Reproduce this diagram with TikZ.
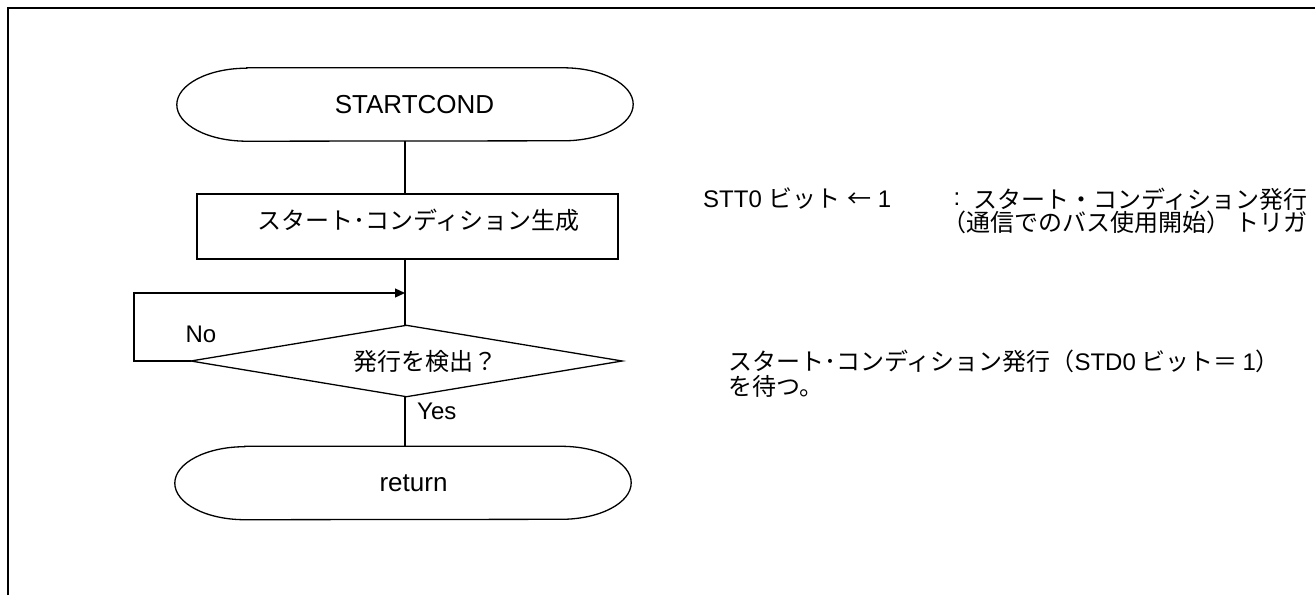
\documentclass[tikz,border=0pt]{standalone}
\usepackage{fontspec}
\setmainfont{Liberation Sans}
\newfontfamily\jp{Noto Sans CJK JP}
\usetikzlibrary{arrows.meta}
\begin{document}
\begin{tikzpicture}[x=1pt,y=1pt,
  flow/.style={line width=1.3pt, draw=black},
  frameline/.style={line width=2pt},
  termnode/.style={inner sep=0pt, minimum width=456pt, minimum height=73pt, font=\fontsize{26}{30}\selectfont},
  procnode/.style={flow, draw, inner sep=0pt, minimum width=421pt, minimum height=65pt, font=\jp\fontsize{24}{28}\selectfont},
  decnode/.style={inner sep=0pt, minimum width=431pt, minimum height=71pt, font=\jp\fontsize{24}{28}\selectfont},
  lbl/.style={inner sep=0pt, font=\fontsize{24}{28}\selectfont},
  rtxt/.style={inner sep=0pt, font=\fontsize{24}{28}\selectfont},
  arrowtip/.style={-{Triangle[length=10pt,width=9pt]}}
]
\newcommand\stadium[1]{%
  \draw[flow] ([xshift=70pt]#1.north west) -- ([xshift=-70pt]#1.north east)
    arc[start angle=90,end angle=-90,x radius=70pt,y radius=36.5pt]
    -- ([xshift=70pt]#1.south west)
    arc[start angle=270,end angle=90,x radius=70pt,y radius=36.5pt] -- cycle;}
\useasboundingbox (0,-595) rectangle (1315,0);
% frame
\draw[frameline] (7.5,-595) -- (7.5,-8) -- (1315,-8);

% nodes
\node[termnode] (start) at (405,-104.5) {\hspace*{19pt}STARTCOND};
\stadium{start}
\node[procnode] (proc) at (407.5,-226.5) {\hspace*{22pt}\raisebox{14pt}{スタート･コンディション生成}};
\node[decnode] (dec) at (406.5,-361) {\hspace*{37pt}発行を検出？};
\draw[flow] (dec.north) -- (dec.east) -- (dec.south) -- (dec.west) -- cycle;
\node[termnode] (ret) at (403,-483) {\hspace*{21pt}return};
\stadium{ret}

% connectors
\draw[flow] (start.south) -- (start.south |- proc.north);
\draw[flow] (proc.south -| start.south) -- (dec.north -| start.south);
\draw[flow] (dec.south -| start.south) -- (ret.north -| start.south);
\coordinate (loopc) at (134,-293);
\draw[flow, arrowtip] (dec.west) -- (dec.west -| loopc) -- (loopc) -- (loopc -| start.south);

% labels
\node[lbl] (no) at (201,-334) {No};
\node[lbl, anchor=west] (yes) at (417,-411) {Yes};

% right-hand notes
\node[rtxt, anchor=west] (r1a) at (703,-199) {STT0 {\jp ビット} {\jp ←} 1};
\node[rtxt] (r1b) at (957,-199) {:};
\node[rtxt, anchor=east] (r1c) at (1308,-199) {\jp スタート・コンディション発行};
\node[rtxt, anchor=east] (r2) at (1308,-222) {\jp （通信でのバス使用開始） トリガ};
\node[rtxt, anchor=west] (r3) at (728,-361) {\jp スタート･コンディション発行（{\rmfamily STD0} ビット＝ {\rmfamily 1}）};
\node[rtxt, anchor=west] (r4) at (728,-386) {\jp を待つ。};
\end{tikzpicture}
\end{document}
